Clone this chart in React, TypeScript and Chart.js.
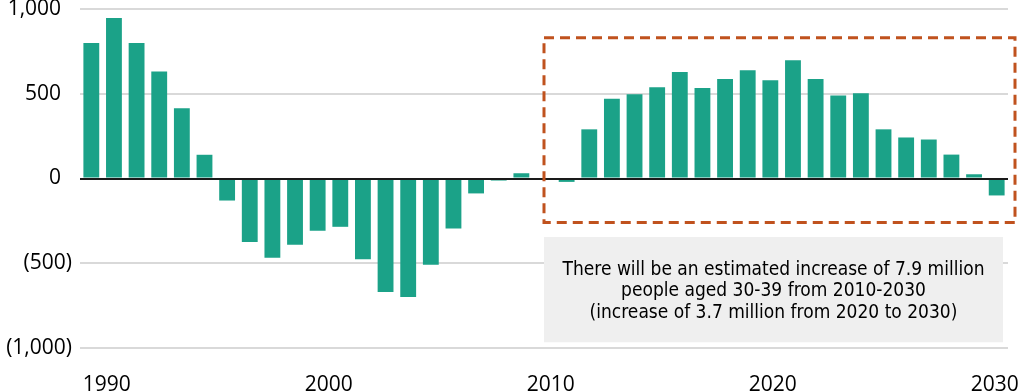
import React, { useEffect, useRef } from "react";
import { Chart, registerables } from "chart.js";

Chart.register(...registerables);

const years: string[] = [
  "1990", "1991", "1992", "1993", "1994", "1995", "1996", "1997", "1998", "1999",
  "2000", "2001", "2002", "2003", "2004", "2005", "2006", "2007", "2008", "2009",
  "2010", "2011", "2012", "2013", "2014", "2015", "2016", "2017", "2018", "2019",
  "2020", "2021", "2022", "2023", "2024", "2025", "2026", "2027", "2028", "2029",
  "2030",
];

const changeValues: number[] = [
  800, 947, 800, 632, 414, 140, -130, -375, -467, -391,
  -308, -285, -477, -670, -699, -509, -295, -88, -12, 31,
  0, -20, 290, 471, 497, 538, 629, 534, 587, 638,
  579, 697, 587, 489, 503, 290, 242, 230, 141, 25,
  -100,
];

const xTickYears: number[] = [1990, 2000, 2010, 2020, 2030];
const yTickValues: number[] = [-1000, -500, 0, 500, 1000];

const noteLines: string[] = [
  "There will be an estimated increase of 7.9 million",
  "people aged 30-39 from 2010-2030",
  "(increase of 3.7 million from 2020 to 2030)",
];

// range of the year label axis (labels sit slightly off the bar centres in the source)
const yearAxisMin = 1988.8;
const yearAxisMax = 2030.6;

// annotation extents in data units
const highlightStart = "2010";
const highlightTop = 830;
const highlightBottom = -260;
const noteTop = -345;
const noteBottom = -966;

const BAR = "#1ba288";
const DASH = "#c0521e";
const TICK_FONT = "'Open Sans', 'Noto Sans', sans-serif";
const NOTE_FONT = "'DejaVu Sans Condensed', 'DejaVu Sans', sans-serif";

function fmt(v: number): string {
  const s = Math.abs(v).toLocaleString("en-US");
  return v < 0 ? `(${s})` : `${s}  `;
}

const overlayPlugin = {
  id: "overlay",
  afterDatasetsDraw(chart: any) {
    const { ctx, chartArea, scales } = chart;
    const x = scales.x;
    const y = scales.y;
    ctx.save();
    // zero line
    const y0 = Math.round(y.getPixelForValue(0));
    ctx.strokeStyle = "#1a1a1a";
    ctx.lineWidth = 2;
    ctx.beginPath();
    ctx.moveTo(chartArea.left, y0);
    ctx.lineTo(chartArea.right, y0);
    ctx.stroke();

    const idx = years.indexOf(highlightStart);
    const left = x.getPixelForValue(idx);

    // gray note box
    const nTop = y.getPixelForValue(noteTop);
    const nBot = y.getPixelForValue(noteBottom);
    const nRight = chartArea.right - 5;
    ctx.fillStyle = "#efefef";
    ctx.fillRect(left, nTop, nRight - left, nBot - nTop);
    ctx.fillStyle = "#000";
    ctx.font = `19px ${NOTE_FONT}`;
    ctx.textAlign = "center";
    ctx.textBaseline = "alphabetic";
    const cx = (left + nRight) / 2;
    noteLines.forEach((line, i) => {
      ctx.fillText(line, cx, nTop + 38 + i * 21.5);
    });

    // dashed highlight box
    const hTop = y.getPixelForValue(highlightTop);
    const hBot = y.getPixelForValue(highlightBottom);
    const hRight = chartArea.right + 7;
    ctx.strokeStyle = DASH;
    ctx.lineWidth = 3;
    ctx.setLineDash([10, 6]);
    ctx.strokeRect(left, hTop, hRight - left, hBot - hTop);
    ctx.restore();
  },
};

export default function App() {
  const canvasRef = useRef<HTMLCanvasElement | null>(null);

  useEffect(() => {
    if (!canvasRef.current) return;
    const chart = new Chart(canvasRef.current, {
      type: "bar",
      data: {
        labels: years,
        datasets: [
          {
            data: changeValues,
            backgroundColor: BAR,
            borderWidth: 0,
            categoryPercentage: 1,
            barPercentage: 0.7,
          },
        ],
      },
      options: {
        animation: false,
        responsive: true,
        maintainAspectRatio: false,
        layout: { padding: { top: 9, right: 14, left: 0, bottom: 0 } },
        plugins: {
          legend: { display: false },
          tooltip: { enabled: false },
        },
        scales: {
          x: {
            position: "bottom",
            grid: { display: false, drawTicks: false },
            border: { display: false },
            ticks: { display: false },
            afterFit: (s: any) => {
              s.height = 0;
              s.paddingLeft = 0;
              s.paddingRight = 0;
            },
          },
          years: {
            type: "linear",
            axis: "x",
            position: "bottom",
            offset: false,
            min: yearAxisMin,
            max: yearAxisMax,
            afterBuildTicks: (s: any) => {
              s.ticks = xTickYears.map((v) => ({ value: v }));
            },
            grid: { display: false, drawTicks: false, offset: false },
            border: { display: false },
            ticks: {
              maxRotation: 0,
              minRotation: 0,
              padding: 24,
              color: "#000",
              font: { family: TICK_FONT, size: 21 },
              callback: (v: any) => String(v),
            },
            afterFit: (s: any) => {
              s.height = 44;
              s.paddingLeft = 0;
              s.paddingRight = 0;
            },
          },
          y: {
            min: -1000,
            max: 1000,
            afterBuildTicks: (s: any) => {
              s.ticks = yTickValues.map((v) => ({ value: v }));
            },
            grid: {
              drawTicks: false,
              color: "#d9d9d9",
              lineWidth: 2,
            },
            border: { display: false },
            ticks: {
              padding: 8,
              color: "#000",
              font: { family: TICK_FONT, size: 21 },
              callback: (v: any) => fmt(Number(v)),
            },
            afterFit: (s: any) => {
              s.width = 80;
              s.paddingTop = 0;
              s.paddingBottom = 0;
            },
          },
        },
      },
      plugins: [overlayPlugin],
    });
    return () => chart.destroy();
  }, []);

  return (
    <div style={{ position: "absolute", left: 0, top: 0, width: 1022, height: 392, background: "#fff" }}>
      <canvas ref={canvasRef} />
    </div>
  );
}
